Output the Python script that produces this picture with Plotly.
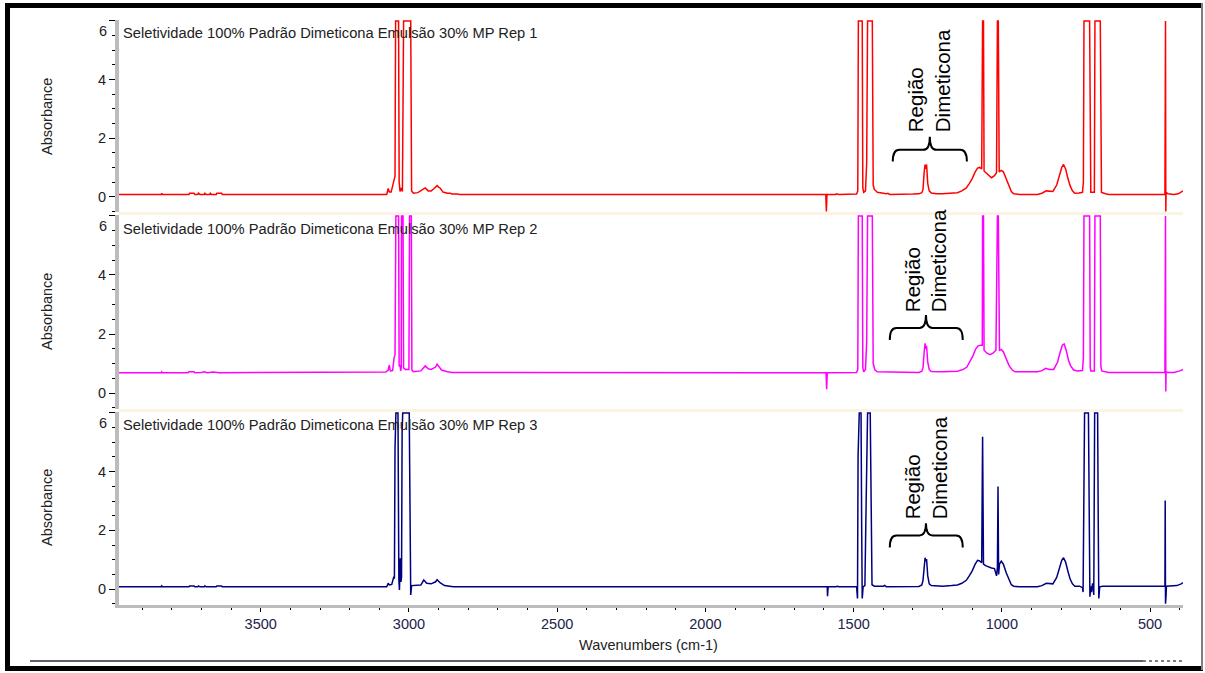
import plotly.graph_objects as go

# ---------------- data (wavenumber cm-1, absorbance) ----------------
rep1_points = [
    (3978, 0.08), (3836, 0.08), (3834, 0.12), (3832, 0.08), (3742, 0.08), (3740, 0.12), (3725, 0.12),
    (3722, 0.08), (3712, 0.08), (3710, 0.12), (3705, 0.08), (3690, 0.08), (3688, 0.12), (3684, 0.08),
    (3672, 0.08), (3670, 0.12), (3666, 0.08), (3650, 0.08), (3648, 0.12), (3632, 0.12), (3630, 0.08),
    (3075, 0.08), (3070, 0.28), (3066, 0.16), (3060, 0.16), (3050, 0.55), (3047, 0.7), (3045, 6.0),
    (3035, 6.0), (3033, 0.5), (3030, 0.18), (3026, 0.3), (3022, 0.18), (3018, 6.0), (2994, 6.0),
    (2991, 0.2), (2985, 0.12), (2970, 0.14), (2955, 0.22), (2945, 0.3), (2935, 0.2), (2925, 0.2),
    (2915, 0.28), (2905, 0.38), (2900, 0.33), (2895, 0.3), (2885, 0.16), (2870, 0.12), (2860, 0.12),
    (2855, 0.09), (2835, 0.09), (2830, 0.08), (1760, 0.08), (1700, 0.08), (1695, 0.1), (1690, 0.08),
    (1650, 0.08), (1648, 0.1), (1640, 0.08), (1594, 0.08), (1592, -0.5), (1590, 0.08), (1560, 0.08),
    (1558, 0.1), (1550, 0.08), (1530, 0.08), (1528, 0.1), (1522, 0.08), (1490, 0.09), (1486, 0.2),
    (1484, 6.0), (1471, 6.0), (1469, 0.3), (1466, 0.15), (1460, 0.2), (1456, 1.15), (1453, 6.0),
    (1437, 6.0), (1434, 0.4), (1430, 0.25), (1420, 0.15), (1400, 0.12), (1390, 0.1), (1385, 0.12),
    (1378, 0.08), (1300, 0.09), (1280, 0.1), (1270, 0.14), (1266, 0.25), (1262, 0.85), (1259, 1.1),
    (1257, 0.95), (1254, 1.1), (1250, 0.45), (1245, 0.2), (1238, 0.13), (1220, 0.1), (1200, 0.1),
    (1170, 0.12), (1150, 0.14), (1135, 0.2), (1120, 0.3), (1110, 0.45), (1100, 0.62), (1090, 0.85),
    (1082, 0.98), (1075, 1.0), (1068, 0.95), (1065, 6.0), (1062, 6.0), (1060, 0.88), (1050, 0.78),
    (1040, 0.68), (1035, 0.65), (1025, 0.72), (1018, 0.82), (1015, 6.0), (1012, 6.0), (1009, 0.85),
    (1002, 0.9), (995, 0.85), (985, 0.6), (975, 0.35), (968, 0.18), (960, 0.1), (940, 0.08),
    (880, 0.08), (865, 0.12), (850, 0.2), (840, 0.18), (828, 0.18), (815, 0.4), (805, 0.75),
    (798, 1.0), (792, 1.1), (785, 0.95), (777, 0.62), (770, 0.38), (762, 0.2), (754, 0.12),
    (740, 0.13), (728, 0.15), (725, 0.5), (723, 6.0), (704, 6.0), (702, 0.3), (700, 0.15),
    (688, 0.15), (686, 6.0), (668, 6.0), (666, 0.3), (664, 0.15), (650, 0.1), (640, 0.08),
    (450, 0.08), (448, 6.0), (447, -0.5), (446, 0.15), (440, 0.1), (420, 0.08), (405, 0.1),
    (395, 0.15), (389, 0.2),
]

rep2_points = [
    (3978, 0.69), (3836, 0.69), (3834, 0.72), (3832, 0.69), (3745, 0.69), (3742, 0.72), (3725, 0.72),
    (3722, 0.69), (3700, 0.7), (3690, 0.72), (3680, 0.69), (3660, 0.71), (3640, 0.69), (3112, 0.69),
    (3110, 0.71), (3078, 0.71), (3070, 0.78), (3066, 0.95), (3063, 0.75), (3055, 0.76), (3050, 1.2),
    (3047, 1.3), (3044, 6.0), (3035, 6.0), (3033, 0.9), (3030, 0.95), (3028, 0.75), (3026, 0.85),
    (3025, 6.0), (3020, 6.0), (3018, 0.85), (3012, 0.8), (3000, 0.8), (2998, 6.0), (2992, 6.0),
    (2990, 0.78), (2985, 0.72), (2960, 0.75), (2945, 0.92), (2935, 0.82), (2925, 0.8), (2910, 0.88),
    (2905, 0.98), (2898, 0.9), (2890, 0.78), (2870, 0.72), (2860, 0.72), (2855, 0.7), (1600, 0.69),
    (1593, 0.69), (1591, 0.13), (1589, 0.69), (1490, 0.7), (1486, 0.8), (1484, 6.0), (1471, 6.0),
    (1469, 0.85), (1466, 0.72), (1460, 0.8), (1456, 1.74), (1453, 6.0), (1437, 6.0), (1434, 1.0),
    (1428, 0.78), (1420, 0.72), (1400, 0.72), (1385, 0.7), (1280, 0.7), (1270, 0.74), (1266, 0.85),
    (1262, 1.4), (1259, 1.68), (1257, 1.5), (1254, 1.6), (1250, 1.05), (1245, 0.8), (1238, 0.73),
    (1200, 0.72), (1150, 0.74), (1130, 0.8), (1118, 0.88), (1108, 1.05), (1098, 1.25), (1088, 1.5),
    (1080, 1.6), (1072, 1.62), (1066, 1.62), (1065, 6.0), (1062, 6.0), (1060, 1.45), (1050, 1.35),
    (1040, 1.3), (1030, 1.35), (1020, 1.45), (1015, 6.0), (1012, 6.0), (1008, 1.45), (1002, 1.48),
    (995, 1.4), (985, 1.15), (975, 0.92), (965, 0.78), (955, 0.72), (880, 0.72), (865, 0.76),
    (852, 0.84), (840, 0.8), (825, 0.8), (812, 1.05), (803, 1.4), (796, 1.62), (790, 1.66),
    (783, 1.45), (775, 1.1), (768, 0.92), (758, 0.78), (745, 0.75), (728, 0.76), (725, 1.2),
    (723, 6.0), (704, 6.0), (702, 0.9), (700, 0.75), (688, 0.75), (686, 6.0), (668, 6.0),
    (666, 0.9), (663, 0.75), (650, 0.72), (640, 0.7), (450, 0.7), (448, 6.0), (447, 0.05),
    (446, 0.72), (440, 0.7), (420, 0.7), (400, 0.75), (389, 0.8),
]

rep3_points = [
    (3978, 0.08), (3836, 0.08), (3834, 0.11), (3832, 0.08), (3742, 0.08), (3740, 0.11), (3725, 0.11),
    (3722, 0.08), (3712, 0.08), (3710, 0.11), (3705, 0.08), (3690, 0.08), (3688, 0.11), (3684, 0.08),
    (3650, 0.08), (3648, 0.11), (3632, 0.11), (3630, 0.08), (3075, 0.08), (3070, 0.2), (3066, 0.14),
    (3058, 0.16), (3051, 0.42), (3049, 0.35), (3047, 4.77), (3044, 6.0), (3037, 6.0), (3036, 1.05),
    (3034, 0.32), (3032, -0.03), (3029, 1.05), (3027, 0.25), (3025, 0.4), (3023, 5.33), (3021, 6.0),
    (2999, 6.0), (2997, 2.4), (2994, -0.2), (2991, 0.12), (2975, 0.12), (2960, 0.14), (2950, 0.31),
    (2940, 0.2), (2925, 0.18), (2910, 0.25), (2905, 0.32), (2895, 0.22), (2880, 0.12), (2860, 0.1),
    (2850, 0.08), (1600, 0.08), (1589, 0.08), (1588, -0.24), (1586, 0.08), (1560, 0.08), (1555, 0.1),
    (1550, 0.08), (1490, 0.08), (1487, -0.32), (1485, 4.54), (1481, 6.0), (1475, 6.0), (1473, 2.28),
    (1471, -0.32), (1468, 0.08), (1462, 0.12), (1459, 2.17), (1453, 6.0), (1444, 6.0), (1441, 2.5),
    (1438, 0.15), (1430, 0.1), (1400, 0.1), (1395, 0.13), (1390, 0.08), (1280, 0.09), (1270, 0.14),
    (1266, 0.3), (1262, 0.85), (1259, 1.07), (1257, 0.95), (1254, 1.02), (1250, 0.45), (1245, 0.18),
    (1238, 0.12), (1200, 0.1), (1170, 0.12), (1150, 0.14), (1135, 0.2), (1120, 0.3), (1110, 0.45),
    (1100, 0.62), (1090, 0.85), (1082, 0.98), (1075, 0.96), (1068, 0.9), (1065, 5.19), (1062, 0.85),
    (1055, 0.8), (1045, 0.75), (1035, 0.72), (1025, 0.7), (1018, 0.45), (1015, 0.75), (1013, 3.49),
    (1011, 0.5), (1008, 0.85), (1002, 0.95), (995, 0.85), (985, 0.55), (975, 0.3), (968, 0.15),
    (960, 0.1), (940, 0.08), (880, 0.08), (865, 0.12), (850, 0.2), (840, 0.18), (828, 0.18),
    (815, 0.4), (805, 0.75), (798, 0.98), (792, 1.07), (785, 0.92), (777, 0.6), (770, 0.35),
    (762, 0.18), (754, 0.1), (738, 0.1), (728, 0.05), (726, -0.1), (724, 2.06), (721, 6.0),
    (708, 6.0), (705, 2.06), (703, -0.26), (700, 0.1), (698, -0.1), (694, 0.2), (690, -0.2),
    (687, 6.0), (677, 6.0), (675, 2.45), (673, -0.32), (670, 0.08), (660, 0.1), (640, 0.1),
    (450, 0.1), (449, 3.02), (448, -0.5), (447, 0.3), (446, -0.2), (445, 0.1), (430, 0.1),
    (410, 0.12), (395, 0.18), (389, 0.22),
]

panel_titles = [
    "Seletividade 100% Padrão Dimeticona Emulsão 30% MP Rep 1",
    "Seletividade 100% Padrão Dimeticona Emulsão 30% MP Rep 2",
    "Seletividade 100% Padrão Dimeticona Emulsão 30% MP Rep 3",
]
x_tick_values = [3500, 3000, 2500, 2000, 1500, 1000, 500]
y_tick_values = [0, 2, 4, 6]
y_tick_text = ["0", "2", "4", ""]
x_title = "Wavenumbers (cm-1)"
y_title = "Absorbance"
region_label = "Região<br>Dimeticona"

# ---------------- layout geometry ----------------
W, H = 1205, 673
L, R, T, B = 119, 22, 20, 68
PW, PH = W - L - R, H - T - B
FONT = "Liberation Sans, Arial, sans-serif"


def px_x(px):
    return (px - L) / PW


def px_y(py):
    return (H - B - py) / PH


colors = ["#ff0000", "#ff00ff", "#000080"]
series = [rep1_points, rep2_points, rep3_points]
domains = [[px_y(212), 1.0], [px_y(409), px_y(215)], [0.0, px_y(412)]]
yranges = [[-0.52, 6.03], [-0.54, 6.03], [-0.54, 6.03]]
xrange_ = [3978, 389]

fig = go.Figure()
for i, (pts, col) in enumerate(zip(series, colors)):
    sfx = "" if i == 0 else str(i + 1)
    fig.add_trace(go.Scatter(
        x=[p[0] for p in pts], y=[p[1] for p in pts], mode="lines",
        line=dict(color=col, width=1.5), xaxis="x" + sfx, yaxis="y" + sfx,
        showlegend=False, hoverinfo="skip",
    ))

layout = dict(
    width=W, height=H, margin=dict(l=L, r=R, t=T, b=B),
    paper_bgcolor="white", plot_bgcolor="white",
    font=dict(family=FONT, size=14.5, color="#222"),
)
for i in range(3):
    sfx = "" if i == 0 else str(i + 1)
    layout["yaxis" + sfx] = dict(
        domain=domains[i], range=yranges[i], anchor="x" + sfx,
        showline=True, linecolor="#bcbcbc", linewidth=4,
        ticks="outside", ticklen=6, tickwidth=1, tickcolor="#000",
        tickvals=y_tick_values, ticktext=y_tick_text,
        minor=dict(dtick=0.5, tick0=0, ticks="outside", ticklen=3, tickcolor="#000", tickwidth=1),
        showgrid=False, zeroline=False, fixedrange=True,
        tickfont=dict(family=FONT, size=14.5, color="#222"),
    )
    if i < 2:
        layout["xaxis" + sfx] = dict(domain=[0, 1], range=xrange_, anchor="y" + sfx,
                                     visible=False, fixedrange=True)
    else:
        layout["xaxis" + sfx] = dict(
            domain=[0, 1], range=xrange_, anchor="y" + sfx,
            showline=True, linecolor="#bcbcbc", linewidth=3,
            ticks="outside", ticklen=4, tickwidth=1, tickcolor="#000",
            tickvals=x_tick_values,
            minor=dict(dtick=100, tick0=0, ticks="outside", ticklen=2, tickcolor="#000", tickwidth=1),
            showgrid=False, zeroline=False, fixedrange=True,
            tickfont=dict(family=FONT, size=14.5, color="#22224a"),
        )
fig.update_layout(**layout)

annotations = []
title_y = [32.7, 229, 425]
absorb_y = [117, 312, 508]
region_pos = [(1243, 3.97), (1256, 4.5), (1255, 4.12)]
for i in range(3):
    sfx = "" if i == 0 else str(i + 1)
    annotations.append(dict(text=panel_titles[i], xref="paper", yref="paper", x=px_x(121),
                            y=px_y(title_y[i]), xanchor="left", yanchor="middle", showarrow=False,
                            font=dict(family=FONT, size=14.7, color="#222")))
    annotations.append(dict(text="6", xref="paper", yref="y" + sfx, x=0, y=6, xanchor="right",
                            yanchor="top", xshift=-10, yshift=0, showarrow=False,
                            font=dict(family=FONT, size=14.5, color="#222")))
    annotations.append(dict(text=y_title, xref="paper", yref="paper", x=px_x(47),
                            y=px_y(absorb_y[i]), xanchor="center", yanchor="middle", textangle=-90,
                            showarrow=False, font=dict(family=FONT, size=14.5, color="#222")))
    annotations.append(dict(text=region_label, xref="x" + sfx, yref="y" + sfx,
                            x=region_pos[i][0], y=region_pos[i][1], xanchor="center",
                            yanchor="middle", textangle=-90, align="left", showarrow=False,
                            font=dict(family=FONT, size=20.5, color="#000")))
annotations.append(dict(text=x_title, xref="paper", yref="paper", x=px_x(648), y=px_y(645),
                        xanchor="center", yanchor="middle", showarrow=False,
                        font=dict(family=FONT, size=14.5, color="#222")))
fig.update_layout(annotations=annotations)

# braces (x0, x1, xm, y_end, y_bar, y_tip) per panel
braces = [(1368, 1118, 1243, 1.2, 1.6, 2.05), (1378, 1132, 1256, 1.8, 2.2, 2.64),
          (1378, 1132, 1256, 1.42, 1.83, 2.24)]
shapes = []
for i, (x0, x1, xm, ye, yb, yt) in enumerate(braces):
    sfx = "" if i == 0 else str(i + 1)
    d = 22
    path = (f"M {x0},{ye} Q {x0},{yb} {x0 - d},{yb} L {xm + d},{yb} Q {xm},{yb} {xm},{yt} "
            f"Q {xm},{yb} {xm - d},{yb} L {x1 + d},{yb} Q {x1},{yb} {x1},{ye}")
    shapes.append(dict(type="path", path=path, xref="x" + sfx, yref="y" + sfx,
                       line=dict(color="#000", width=2)))

# cream separators between the panels
for (a, b) in [(212, 215), (409, 412)]:
    shapes.append(dict(type="rect", xref="paper", yref="paper", x0=0, x1=1, y0=px_y(b), y1=px_y(a),
                       fillcolor="#fbf3e3", line=dict(width=0), layer="below"))

# outer frame
frame = [((5, 5.5), (1203, 5.5), 5, "#000"), ((7.5, 3), (7.5, 670), 5, "#000"),
         ((5, 668.5), (1203, 668.5), 5, "#000"), ((1202, 3), (1202, 670), 2, "#808080"),
         ((30, 661), (1143, 661), 1.5, "#2a2a3a")]
for (p0, p1, w, c) in frame:
    shapes.append(dict(type="line", xref="paper", yref="paper", x0=px_x(p0[0]), y0=px_y(p0[1]),
                       x1=px_x(p1[0]), y1=px_y(p1[1]), line=dict(color=c, width=w)))
shapes.append(dict(type="line", xref="paper", yref="paper", x0=px_x(1143), y0=px_y(661),
                   x1=px_x(1185), y1=px_y(661), line=dict(color="#555", width=1.5, dash="dot")))
fig.update_layout(shapes=shapes)

fig.write_html("out.html", config={"displayModeBar": False},
               post_script="document.body.style.margin='0px';document.body.style.overflow='hidden';")
